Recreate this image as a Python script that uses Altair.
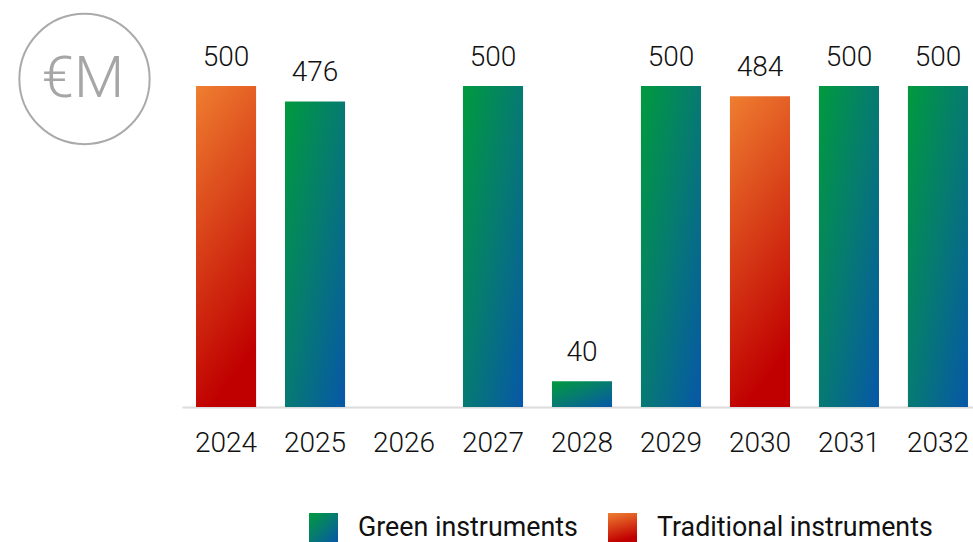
import altair as alt
import pandas as pd

years = ["2024", "2025", "2026", "2027", "2028", "2029", "2030", "2031", "2032"]
values = [500, 476, None, 500, 40, 500, 484, 500, 500]
types = ["Traditional instruments", "Green instruments", None, "Green instruments",
         "Green instruments", "Green instruments", "Traditional instruments",
         "Green instruments", "Green instruments"]
series = ["Green instruments", "Traditional instruments"]
unit_label = "€M"

rows = [{"year": y, "value": v, "type": t} for y, v, t in zip(years, values, types) if v is not None]
df = pd.DataFrame(rows)

green_grad = ("{gradient: 'linear', x1: 0, y1: 0, x2: 1, y2: 1, stops: ["
              "{offset: 0, color: '#009a3d'}, {offset: 0.5, color: '#067a72'}, {offset: 1, color: '#0757a8'}]}")
orange_grad = ("{gradient: 'linear', x1: 0, y1: 0, x2: 0.25, y2: 1, stops: ["
               "{offset: 0, color: '#ef7e30'}, {offset: 1, color: '#c00000'}]}")

x_scale = alt.Scale(domain=years, range=[0, 800], paddingInner=0.325, paddingOuter=0.1575)
y_scale = alt.Scale(domain=[0, 500], nice=False, zero=True)

base = alt.Chart(df)

bars = base.mark_bar().encode(
    x=alt.X("year:N", scale=x_scale, sort=years,
            axis=alt.Axis(title=None, ticks=False, labelAngle=0, labelFontSize=28,
                          labelFont="Roboto", labelFontWeight=300, labelColor="#111111",
                          labelPadding=22, domainColor="#dcdcdc", domainWidth=2, grid=False)),
    y=alt.Y("value:Q", scale=y_scale, axis=None),
    fill=alt.Fill("type:N",
                  scale=alt.Scale(domain=series,
                                  range=[alt.ExprRef(expr=green_grad), alt.ExprRef(expr=orange_grad)]),
                  legend=alt.Legend(title=None, orient="none", legendX=127, legendY=427,
                                    direction="horizontal", symbolType="square", symbolSize=841,
                                    symbolStrokeWidth=0, labelFontSize=26.8, labelFont="Roboto",
                                    labelColor="#111111", labelOffset=20, columnPadding=30,
                                    labelLimit=0, padding=0, offset=0)),
)

labels = base.mark_text(baseline="alphabetic", dy=-20, fontSize=28, font="Roboto",
                        fontWeight=300, color="#111111").encode(
    x=alt.X("year:N", scale=x_scale, sort=years),
    y=alt.Y("value:Q", scale=y_scale),
    text=alt.Text("value:Q"),
)

deco_df = pd.DataFrame({"label": [unit_label]})
circle = alt.Chart(deco_df).mark_point(shape="circle", filled=False, size=16972,
                                       stroke="#aaaaaa", strokeWidth=2, opacity=1).encode(
    x=alt.value(-97.5), y=alt.value(-7)
)
unit_text = alt.Chart(deco_df).mark_text(fontSize=58, font="Roboto", fontWeight=300,
                                         color="#a6a6a6", baseline="middle", align="center").encode(
    x=alt.value(-99), y=alt.value(-6), text="label:N"
)

chart = alt.layer(bars, labels, circle, unit_text).properties(
    width=791, height=321,
    padding={"left": 182, "top": 86, "right": 0, "bottom": 135},
    autosize=alt.AutoSizeParams(type="none"),
    background="white",
).configure_view(stroke=None, clip=False)

chart.save("out.html", embed_options={"renderer": "svg", "actions": False})
